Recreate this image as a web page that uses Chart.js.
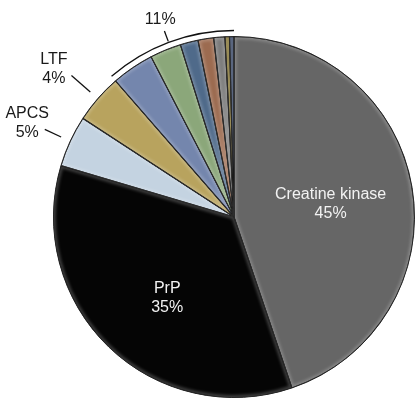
<!DOCTYPE html>
<html lang="en">
<head>
    <meta charset="UTF-8">
    <title>Protein share</title>
    <script src="https://cdn.jsdelivr.net/npm/chart.js"></script>
    <style>
        html, body {
            margin: 0;
            padding: 0;
            background: #ffffff;
        }
        #wrap {
            width: 416px;
            height: 401px;
        }
    </style>
</head>
<body>
<div id="wrap"><canvas id="pieChart" width="416" height="401"></canvas></div>

<script>
    // slice names, shares (%) and fills, clockwise from 12 o'clock
    const proteins = ["Creatine kinase", "PrP", "APCS", "LTF",
        "Other 1", "Other 2", "Other 3", "Other 4", "Other 5", "Other 6", "Other 7"];
    const shares = [44.8, 34.8, 4.6, 4.4, 3.8, 2.8, 1.6, 1.4, 1.0, 0.4, 0.4];
    const fills = ["#666666", "#050505", "#c4d3e1", "#b8a35e",
        "#7486ad", "#8ba77a", "#4f6a8a", "#9c6b50", "#7b7b7b", "#7d6c28", "#2c3c5c"];

    // which slices get a label inside, a label outside, or sit in the bracketed group
    const insideLabels = [0, 1];
    const outsideLabels = [2, 3];
    const groupFrom = 4;

    const total = shares.reduce((a, b) => a + b, 0);
    const pct = v => Math.round(v / total * 100) + "%";

    const font = '16px "Liberation Sans", Arial, sans-serif';
    const lineGap = 19;

    // soft light rim inside every slice, like an office bevel
    const bevelPlugin = {
        id: "bevel",
        afterDatasetsDraw(chart) {
            const ctx = chart.ctx;
            chart.getDatasetMeta(0).data.forEach(arc => {
                ctx.save();
                ctx.beginPath();
                ctx.moveTo(arc.x, arc.y);
                ctx.arc(arc.x, arc.y, arc.outerRadius, arc.startAngle, arc.endAngle);
                ctx.closePath();
                ctx.clip();
                ctx.filter = "blur(1.5px)";
                ctx.strokeStyle = "rgba(255,255,255,0.22)";
                ctx.lineWidth = 5;
                ctx.stroke();
                ctx.filter = "none";
                ctx.strokeStyle = "rgba(20,20,20,0.9)";
                ctx.lineWidth = 1.2;
                ctx.stroke();
                ctx.restore();
            });
        }
    };

    const labelPlugin = {
        id: "pieLabels",
        afterDatasetsDraw(chart) {
            const ctx = chart.ctx;
            const arcs = chart.getDatasetMeta(0).data;
            const cx = arcs[0].x, cy = arcs[0].y, R = arcs[0].outerRadius;
            const at = (a, r) => [cx + r * Math.cos(a), cy + r * Math.sin(a)];
            const mid = arc => (arc.startAngle + arc.endAngle) / 2;

            ctx.save();
            ctx.font = font;
            ctx.textAlign = "center";
            ctx.textBaseline = "middle";

            // names inside the two big slices (radius fraction, angle nudge)
            const inside = [[0.54, 0.03], [0.58, -0.075]];
            insideLabels.forEach((i, k) => {
                const [x, y] = at(mid(arcs[i]) + inside[k][1], R * inside[k][0]);
                ctx.fillStyle = "#f2f2f2";
                ctx.fillText(proteins[i], x, y - lineGap / 2);
                ctx.fillText(pct(shares[i]), x, y + lineGap / 2);
            });

            // outside labels with short leader lines
            const leaderLen = [18, 25];
            ctx.strokeStyle = "#111111";
            ctx.lineWidth = 1.3;
            outsideLabels.forEach((i, k) => {
                const a = mid(arcs[i]);
                const p1 = at(a, R + 10), p2 = at(a, R + 10 + leaderLen[k]);
                ctx.beginPath();
                ctx.moveTo(p1[0], p1[1]);
                ctx.lineTo(p2[0], p2[1]);
                ctx.stroke();
                const txt = pct(shares[i]);
                const x = p2[0] - 6 - ctx.measureText(txt).width / 2;
                const y = p2[1] + 3;
                ctx.fillStyle = "#1a1a1a";
                ctx.fillText(proteins[i], x, y - lineGap);
                ctx.fillText(txt, x, y);
            });

            // bracket arc over the small slices
            const gStart = arcs[groupFrom].startAngle;
            const gEnd = arcs[arcs.length - 1].endAngle;
            const gMid = (gStart + gEnd) / 2;
            ctx.beginPath();
            ctx.arc(cx, cy, R + 6, gStart, gEnd);
            ctx.stroke();
            const q1 = at(gMid, R + 7), q2 = at(gMid, R + 18);
            ctx.beginPath();
            ctx.moveTo(q1[0], q1[1]);
            ctx.lineTo(q2[0], q2[1]);
            ctx.stroke();
            const groupSum = shares.slice(groupFrom).reduce((a, b) => a + b, 0);
            const [gx, gy] = at(gMid, R + 30);
            ctx.fillStyle = "#1a1a1a";
            ctx.fillText(pct(groupSum), gx, gy);

            ctx.restore();
        }
    };

    new Chart(document.getElementById("pieChart"), {
        type: "pie",
        data: {
            labels: proteins,
            datasets: [{
                data: shares,
                backgroundColor: fills,
                borderColor: "#1e1e1e",
                borderWidth: 1,
                hoverOffset: 0
            }]
        },
        options: {
            responsive: false,
            animation: false,
            events: [],
            layout: {
                padding: { left: 53, right: 1, top: 36, bottom: 3 }
            },
            plugins: {
                legend: { display: false },
                tooltip: { enabled: false }
            }
        },
        plugins: [bevelPlugin, labelPlugin]
    });
</script>
</body>
</html>
